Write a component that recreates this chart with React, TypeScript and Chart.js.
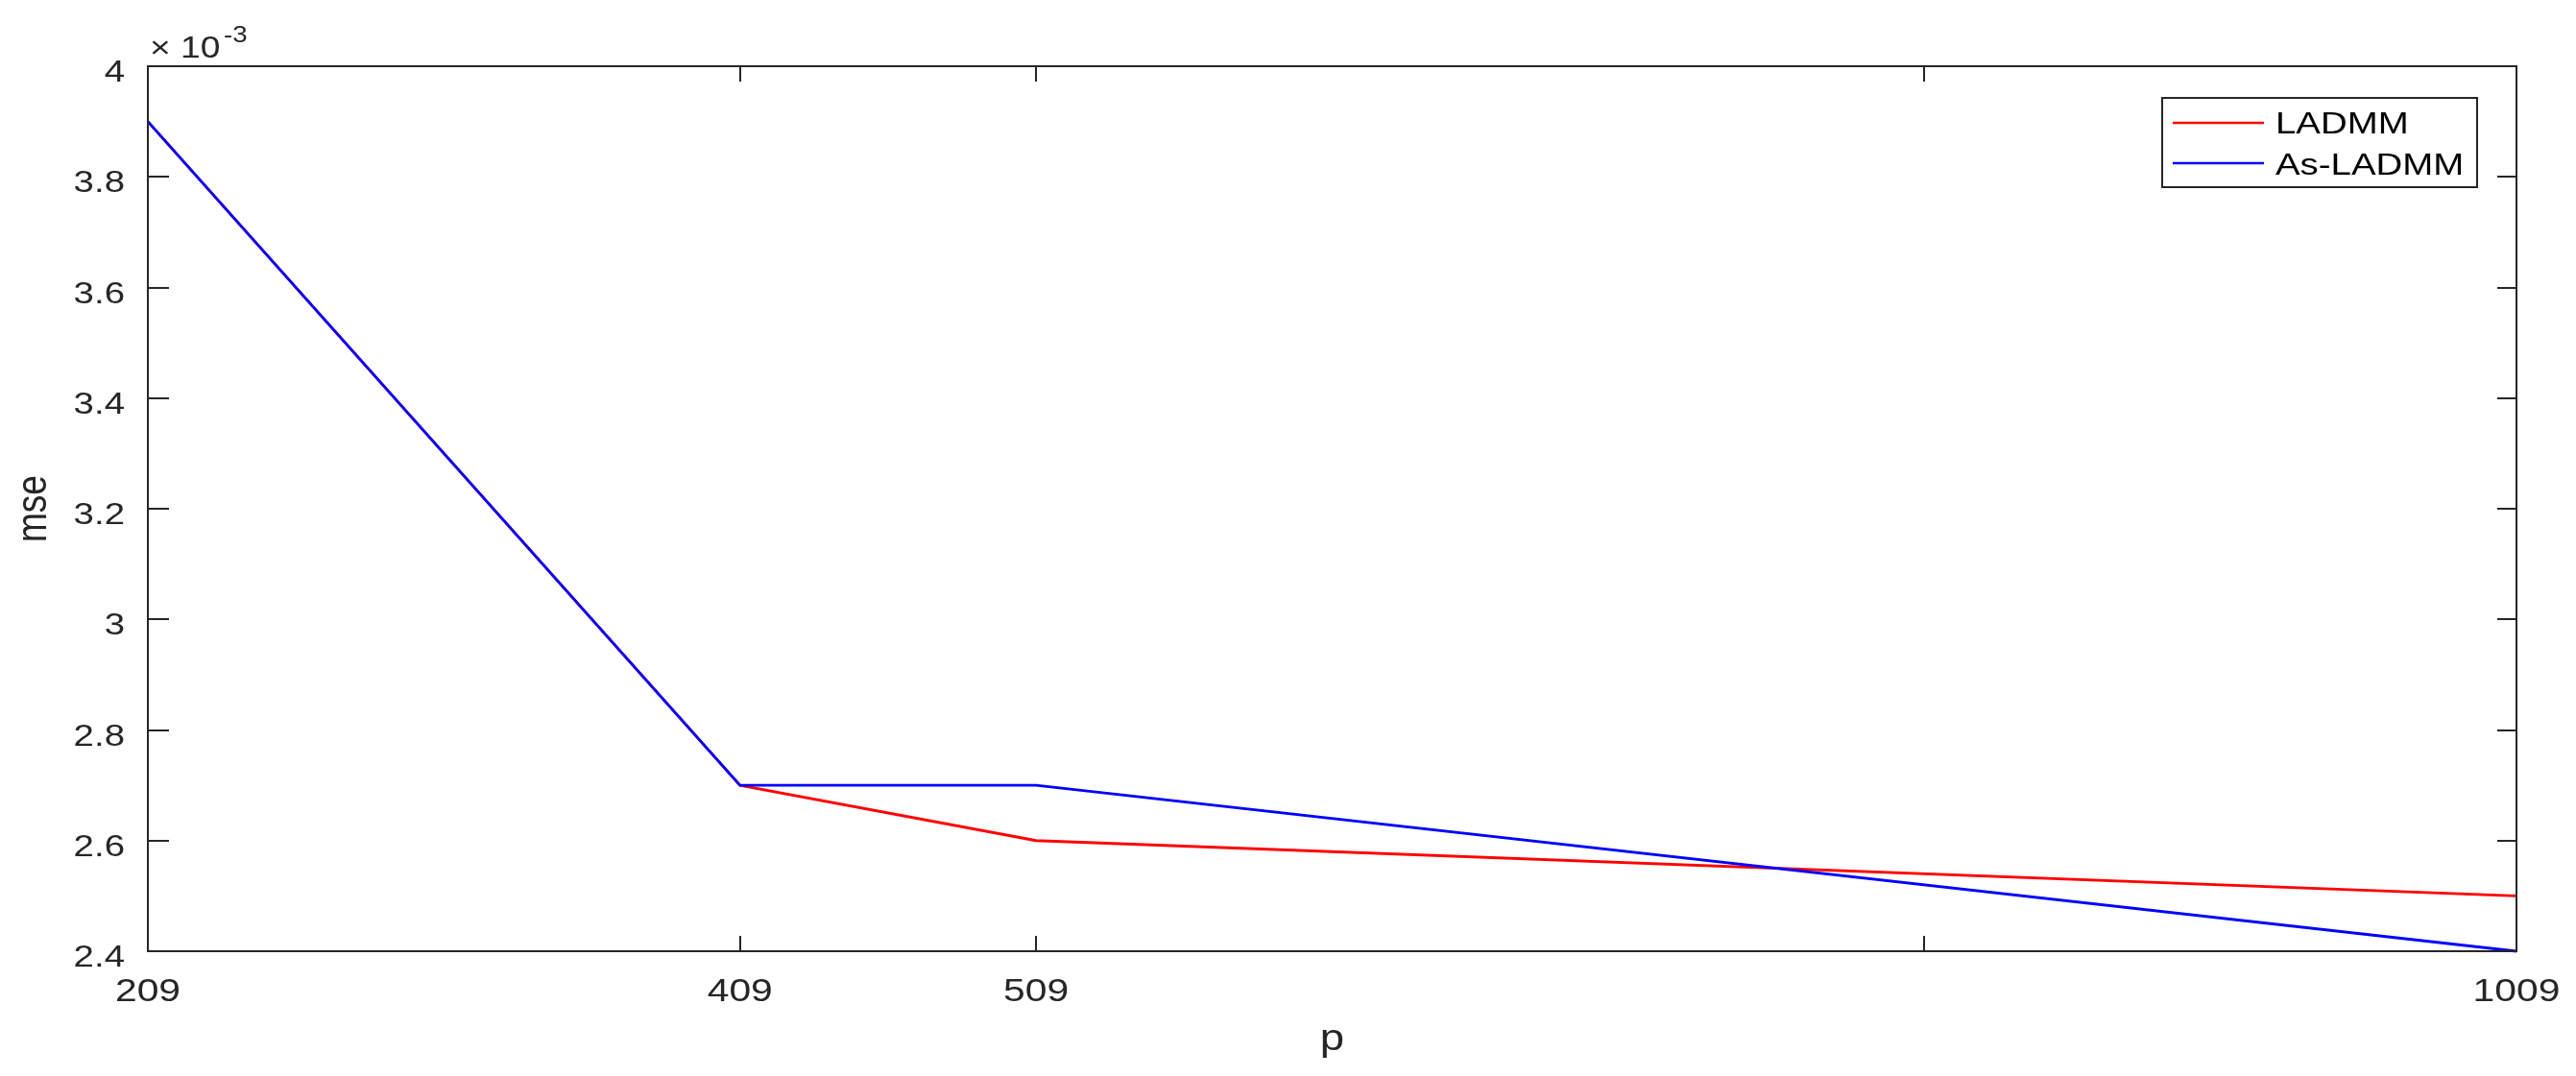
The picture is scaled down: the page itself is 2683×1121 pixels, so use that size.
import React, { useEffect, useRef } from "react";
import { Chart, registerables } from "chart.js";

Chart.register(...registerables);

const pValues = [209, 409, 509, 1009];
const ladmm = [0.0039, 0.0027, 0.0026, 0.0025];
const asLadmm = [0.0039, 0.0027, 0.0027, 0.0024];
const xTicks = [209, 409, 509, 809, 1009];
const xTickLabels = ["209", "409", "509", "", "1009"];
const yTicks = [0.0024, 0.0026, 0.0028, 0.003, 0.0032, 0.0034, 0.0036, 0.0038, 0.004];
const yTickLabels = ["2.4", "2.6", "2.8", "3", "3.2", "3.4", "3.6", "3.8", "4"];
const seriesNames = ["LADMM", "As-LADMM"];
const seriesColors = ["#ff0000", "#0000ff"];
const seriesOrder = [1, 0];

const FONT = "'Liberation Sans', Arial, Helvetica, sans-serif";
const INK = "#262626";
const SX = 1.2;

function drawText(
  ctx: CanvasRenderingContext2D,
  text: string,
  x: number,
  y: number,
  align: CanvasTextAlign,
  size: number,
  color = INK
) {
  ctx.save();
  ctx.translate(x, y);
  ctx.scale(SX, 1);
  ctx.font = `${size}px ${FONT}`;
  ctx.fillStyle = color;
  ctx.textAlign = align;
  ctx.textBaseline = "alphabetic";
  ctx.fillText(text, 0, 0);
  ctx.restore();
}

const matlabAxes = {
  id: "matlabAxes",
  afterDatasetsDraw(chart: any) {
    const ctx: CanvasRenderingContext2D = chart.ctx;
    const { left, right, top, bottom } = chart.chartArea;
    const xs = chart.scales.x;
    const ys = chart.scales.y;
    ctx.save();
    ctx.strokeStyle = INK;
    ctx.lineWidth = 2;
    ctx.strokeRect(left, top, right - left, bottom - top);

    // ticks
    ctx.beginPath();
    yTicks.forEach((v) => {
      const py = Math.round(ys.getPixelForValue(v));
      ctx.moveTo(left, py);
      ctx.lineTo(left + 22, py);
      ctx.moveTo(right, py);
      ctx.lineTo(right - 20, py);
    });
    xTicks.forEach((v) => {
      const px = Math.round(xs.getPixelForValue(v));
      ctx.moveTo(px, bottom);
      ctx.lineTo(px, bottom - 16);
      ctx.moveTo(px, top);
      ctx.lineTo(px, top + 16);
    });
    ctx.stroke();

    // tick labels
    yTicks.forEach((v, i) => {
      const py = ys.getPixelForValue(v);
      drawText(ctx, yTickLabels[i], 130, py + 16, "right", 32);
    });
    xTicks.forEach((v, i) => {
      const px = xs.getPixelForValue(v);
      if (xTickLabels[i]) drawText(ctx, xTickLabels[i], px, 1043, "center", 34);
    });

    // exponent
    drawText(ctx, "\u00d7 10", 156, 60, "left", 31);
    drawText(ctx, "-3", 233, 44, "left", 23);

    // axis titles
    drawText(ctx, "p", (left + right) / 2, 1094, "center", 38);
    ctx.save();
    ctx.translate(48, (top + bottom) / 2);
    ctx.rotate(-Math.PI / 2);
    ctx.scale(1, SX);
    ctx.font = `37px ${FONT}`;
    ctx.fillStyle = INK;
    ctx.textAlign = "center";
    ctx.textBaseline = "alphabetic";
    ctx.fillText("mse", 0, 0);
    ctx.restore();

    // legend
    const lx = 2252, ly = 102, lw = 328, lh = 93;
    ctx.fillStyle = "#ffffff";
    ctx.fillRect(lx, ly, lw, lh);
    ctx.strokeStyle = INK;
    ctx.lineWidth = 2;
    ctx.strokeRect(lx, ly, lw, lh);
    const rowsY = [128, 170];
    const baseY = [139, 182];
    chart.data.datasets.forEach((ds: any, i: number) => {
      ctx.beginPath();
      ctx.strokeStyle = ds.borderColor;
      ctx.lineWidth = 2.5;
      ctx.moveTo(2263, rowsY[i]);
      ctx.lineTo(2358, rowsY[i]);
      ctx.stroke();
      drawText(ctx, ds.label, 2370, baseY[i], "left", 32, "#000000");
    });
    ctx.restore();
  },
};

export default function App() {
  const ref = useRef<HTMLCanvasElement | null>(null);
  useEffect(() => {
    document.body.style.margin = "0";
    const canvas = ref.current!;
    const chart = new Chart(canvas, {
      type: "line",
      data: {
        datasets: [ladmm, asLadmm].map((vals, i) => ({
          label: seriesNames[i],
          data: pValues.map((p, j) => ({ x: p, y: vals[j] })),
          borderColor: seriesColors[i],
          backgroundColor: seriesColors[i],
          borderWidth: 2.8,
          pointRadius: 0,
          tension: 0,
          fill: false,
          order: seriesOrder[i],
          clip: false as any,
        })),
      },
      options: {
        responsive: false,
        animation: false,
        devicePixelRatio: 1,
        layout: { padding: { left: 154, top: 69, right: 62, bottom: 130 } },
        plugins: { legend: { display: false }, tooltip: { enabled: false } },
        scales: {
          x: { type: "linear", min: 209, max: 1009, display: false },
          y: { type: "linear", min: 0.0024, max: 0.004, display: false },
        },
      },
      plugins: [matlabAxes],
    });
    return () => chart.destroy();
  }, []);
  return (
    <canvas
      ref={ref}
      width={2683}
      height={1121}
      style={{ display: "block", width: 2683, height: 1121 }}
    />
  );
}
